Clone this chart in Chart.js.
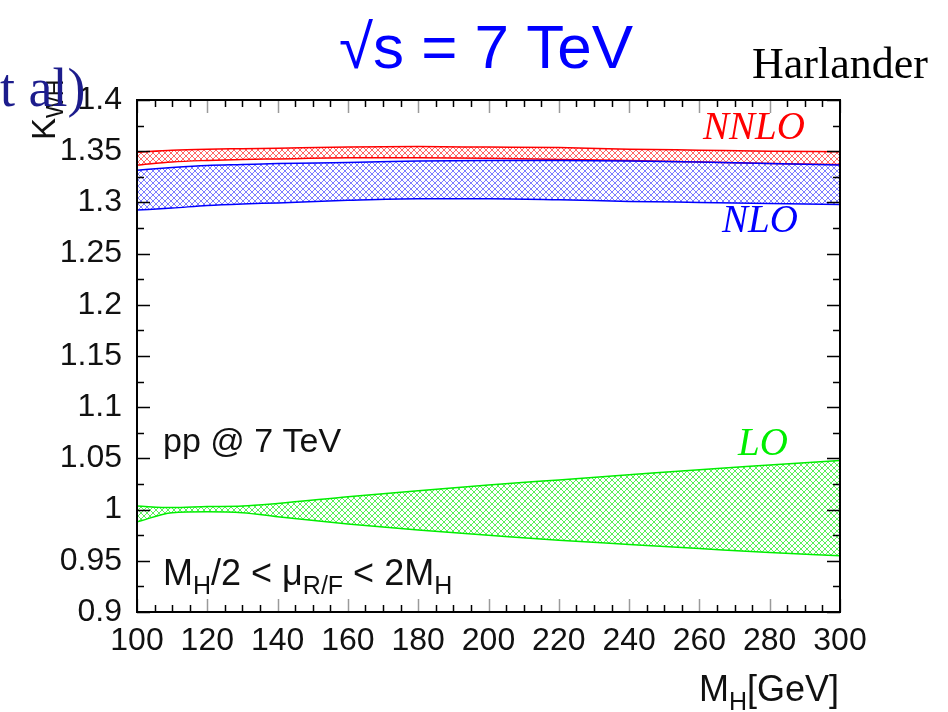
<!DOCTYPE html>
<html>
<head>
<meta charset="utf-8">
<script src="https://cdn.jsdelivr.net/npm/chart.js@4.4.1/dist/chart.umd.min.js"></script>
<style>
  html, body { margin: 0; padding: 0; background: #fff; }
  #wrap { width: 948px; height: 712px; position: relative; }
</style>
</head>
<body>
<div id="wrap"><canvas id="kChart" width="948" height="712"></canvas></div>
<script>
const masses = [100, 110, 120, 130, 140, 160, 180, 200, 220, 240, 260, 280, 300];

// K-factor bands (upper / lower edge)
const nnloHi = [1.349, 1.351, 1.352, 1.3525, 1.353, 1.354, 1.3545, 1.354, 1.3535, 1.352, 1.351, 1.350, 1.3495];
const nnloLo = [1.3365, 1.3395, 1.341, 1.342, 1.3425, 1.3435, 1.3435, 1.343, 1.342, 1.341, 1.3395, 1.338, 1.337];
const nloHi  = [1.3315, 1.334, 1.336, 1.337, 1.338, 1.339, 1.3405, 1.341, 1.341, 1.3405, 1.3395, 1.338, 1.3365];
const nloLo  = [1.2925, 1.2945, 1.297, 1.2985, 1.2995, 1.302, 1.3035, 1.3035, 1.3025, 1.301, 1.300, 1.299, 1.298];
const loHi   = [1.0035, 1.002, 1.003, 1.0035, 1.006, 1.0125, 1.0185, 1.024, 1.029, 1.034, 1.039, 1.0435, 1.048];
const loLo   = [0.988, 0.997, 0.998, 0.997, 0.993, 0.986, 0.980, 0.975, 0.970, 0.966, 0.962, 0.958, 0.955];

// tick labels
const xTickLabels = ['100', '120', '140', '160', '180', '200', '220', '240', '260', '280', '300'];
const yTickLabels = ['0.9', '0.95', '1', '1.05', '1.1', '1.15', '1.2', '1.25', '1.3', '1.35', '1.4'];

const SANS = '"Liberation Sans", Arial, Helvetica, sans-serif';
const SERIF = '"Liberation Serif", "Times New Roman", serif';

// cross-hatch fill like the original plot
function hatch(color) {
    const c = document.createElement('canvas');
    c.width = 6; c.height = 6;
    const g = c.getContext('2d');
    g.strokeStyle = color;
    g.lineWidth = 1;
    g.beginPath();
    g.moveTo(-1, -1); g.lineTo(7, 7);
    g.moveTo(7, -1); g.lineTo(-1, 7);
    g.stroke();
    return g.createPattern(c, 'repeat');
}

function pts(arr) {
    return masses.map((m, i) => ({ x: m, y: arr[i] }));
}

function band(lo, hi, color, fillColor) {
    const common = {
        borderColor: color,
        borderWidth: 1.5,
        pointRadius: 0,
        cubicInterpolationMode: 'monotone'
    };
    return [
        Object.assign({ data: pts(lo), fill: false }, common),
        Object.assign({ data: pts(hi), fill: '-1', backgroundColor: hatch(fillColor) }, common)
    ];
}

// draws text pieces, some of them as subscripts
function richText(ctx, parts, x, y, size, subSize, drop) {
    let cx = x;
    parts.forEach(p => {
        const sub = p[1];
        ctx.font = (sub ? subSize : size) + 'px ' + SANS;
        ctx.fillText(p[0], cx, sub ? y + drop : y);
        cx += ctx.measureText(p[0]).width;
    });
}

const framePlugin = {
    id: 'frame',
    afterDatasetsDraw(chart) {
        const ctx = chart.ctx;
        const a = chart.chartArea;
        const xs = chart.scales.x, ys = chart.scales.y;
        ctx.save();

        // x ticks (inside, top and bottom)
        for (let v = xs.min; v <= xs.max + 0.001; v += 5) {
            const px = Math.round(xs.getPixelForValue(v)) + 0.5;
            const major = (v % 20) === 0;
            const len = major ? 13 : 7;
            ctx.strokeStyle = major ? '#9a9a9a' : '#000';
            ctx.lineWidth = 1.5;
            ctx.beginPath();
            ctx.moveTo(px, a.bottom); ctx.lineTo(px, a.bottom - len);
            ctx.moveTo(px, a.top); ctx.lineTo(px, a.top + len);
            ctx.stroke();
        }
        // y ticks (inside, left and right)
        for (let i = 0; i <= 20; i++) {
            const v = ys.min + i * 0.025;
            const py = Math.round(ys.getPixelForValue(v)) + 0.5;
            const len = (i % 2 === 0) ? 13 : 7;
            ctx.strokeStyle = '#000';
            ctx.lineWidth = 1.5;
            ctx.beginPath();
            ctx.moveTo(a.left, py); ctx.lineTo(a.left + len, py);
            ctx.moveTo(a.right, py); ctx.lineTo(a.right - len, py);
            ctx.stroke();
        }
        // frame
        ctx.strokeStyle = '#000';
        ctx.lineWidth = 2;
        ctx.strokeRect(a.left, a.top, a.right - a.left, a.bottom - a.top);

        ctx.textBaseline = 'alphabetic';
        ctx.textAlign = 'left';

        // band labels
        ctx.font = 'italic 39px ' + SERIF;
        ctx.fillStyle = '#ff0000';
        ctx.fillText('NNLO', 703, 139);
        ctx.fillStyle = '#0000ff';
        ctx.fillText('NLO', 722, 232);
        ctx.fillStyle = '#00ee00';
        ctx.fillText('LO', 738, 455);

        // annotations inside the frame
        ctx.fillStyle = '#111';
        ctx.font = '34px ' + SANS;
        ctx.fillText('pp @ 7 TeV', 163, 452);
        richText(ctx, [['M', 0], ['H', 1], ['/2 < \u03bc', 0], ['R/F', 1], [' < 2M', 0], ['H', 1]], 163, 585, 36, 25, 9);

        // axis titles
        richText(ctx, [['M', 0], ['H', 1], ['[GeV]', 0]], 699, 701, 36, 25, 9);
        ctx.save();
        ctx.translate(55, 140);
        ctx.rotate(-Math.PI / 2);
        richText(ctx, [['K', 0], ['WH', 1]], 0, 0, 33, 23, 8);
        ctx.restore();

        // page texts around the plot
        ctx.fillStyle = '#0000ff';
        ctx.font = '62px ' + SANS;
        ctx.textAlign = 'center';
        ctx.fillText('\u221as = 7 TeV', 486, 68);
        ctx.textAlign = 'left';
        ctx.fillStyle = '#1c1c8c';
        ctx.font = '54px ' + SERIF;
        ctx.fillText('t al)', 0, 106);
        ctx.fillStyle = '#000';
        ctx.font = '44px ' + SERIF;
        ctx.fillText('Harlander', 752, 78);

        ctx.restore();
    }
};

new Chart(document.getElementById('kChart'), {
    type: 'line',
    data: {
        datasets: [
            ...band(nloLo, nloHi, '#0000ff', 'rgba(40, 40, 255, 0.6)'),
            ...band(nnloLo, nnloHi, '#ff0000', 'rgba(255, 0, 0, 0.6)'),
            ...band(loLo, loHi, '#00ee00', 'rgba(0, 230, 0, 0.65)')
        ]
    },
    options: {
        responsive: false,
        animation: false,
        layout: { padding: { top: 100, right: 108, left: 0, bottom: 0 } },
        plugins: {
            legend: { display: false },
            tooltip: { enabled: false }
        },
        scales: {
            x: {
                type: 'linear',
                min: 100,
                max: 300,
                afterBuildTicks: s => { s.ticks = xTickLabels.map(t => ({ value: Number(t) })); },
                afterFit: s => { s.height = 100; },
                grid: { display: false, drawTicks: false },
                border: { display: false },
                ticks: {
                    padding: 10,
                    color: '#111',
                    font: { family: SANS, size: 32 },
                    maxRotation: 0,
                    autoSkip: false,
                    callback: (v) => xTickLabels.find(t => Number(t) === v)
                }
            },
            y: {
                min: 0.9,
                max: 1.4,
                afterBuildTicks: s => { s.ticks = yTickLabels.map(t => ({ value: Number(t) })); },
                afterFit: s => { s.width = 137; },
                grid: { display: false, drawTicks: false },
                border: { display: false },
                ticks: {
                    padding: 15,
                    color: '#111',
                    font: { family: SANS, size: 32 },
                    autoSkip: false,
                    callback: (v) => yTickLabels.find(t => Math.abs(Number(t) - v) < 1e-6)
                }
            }
        }
    },
    plugins: [framePlugin]
});
</script>
</body>
</html>
